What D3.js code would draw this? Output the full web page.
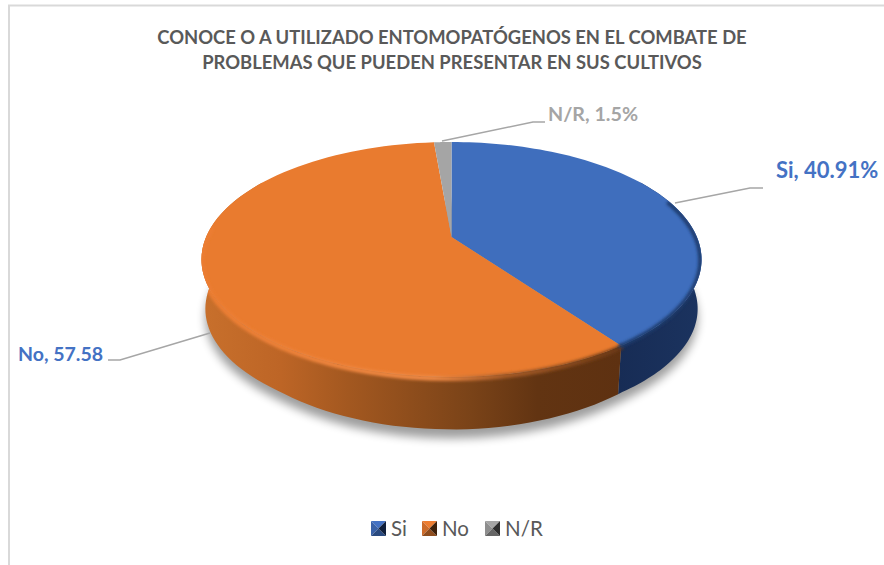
<!DOCTYPE html>
<html><head><meta charset="utf-8">
<script src="https://cdn.jsdelivr.net/npm/d3@7"></script>
<style>html,body{margin:0;padding:0;background:#fff}svg{display:block}text{font-family:Lato,Carlito,Calibri,sans-serif}</style>
</head><body><svg id="c" width="884" height="565"></svg>
<script>
const categories=["Si","No","N/R"];
const values=[40.91,57.58,1.5];
const labels=["Si, 40.91%","No, 57.58","N/R, 1.5%"];
const titleLines=["CONOCE O A UTILIZADO ENTOMOPATÓGENOS EN EL COMBATE DE","PROBLEMAS QUE PUEDEN PRESENTAR EN SUS CULTIVOS"];
const topColors=["#3f6ebd","#e97b2f","#a5a5a5"];
const labelColors=["#4472c4","#4472c4","#a5a5a5"];

const svg=d3.select("#c");
const defs=svg.append("defs");
const cx=451.5,apexY=237,k=-0.1915,p=67.8,W=245.4,warp=0.097;
function proj(a,dz=0,s=1){const b=a-warp*Math.sin(a),u=Math.sin(b)*s,v=-Math.cos(b)*s,d=1+k*v;return [cx+W*u/d,(p*v+apexY)/d+dz];}
// lower ring of the disc: slightly narrower, a little deeper at the very front
function ring(a){const b=a-warp*Math.sin(a),v=-Math.cos(b);return proj(a,50+5*Math.max(0,(v-0.8)/0.2),0.985);}
const pie=d3.pie().sort(null).value(d=>d);
const arcs=pie(values);
const line=d3.line();
const rimPts=(a0,a1,dz=0,s=1)=>d3.range(0,81).map(i=>proj(a0+(a1-a0)*i/80,dz,s));
const ringPts=(a0,a1)=>d3.range(0,81).map(i=>ring(a0+(a1-a0)*i/80));

function grad(id,x1,x2,stops){
  const g=defs.append("linearGradient").attr("id",id).attr("gradientUnits","userSpaceOnUse").attr("x1",x1).attr("x2",x2).attr("y1",0).attr("y2",0);
  stops.forEach(s=>g.append("stop").attr("offset",s[0]).attr("stop-color",s[1]));
}
grad("gO",201,622,[[0,"#c8702c"],[0.19,"#bd6526"],[0.35,"#a35820"],[0.64,"#7a4318"],[0.8,"#623412"],[1,"#5e3111"]]);
grad("gB",618,701,[[0,"#172c55"],[1,"#1b335f"]]);
grad("gBevelO",201,622,[[0,"#ec7d32"],[0.55,"#f08a45"],[0.72,"#a85c28"],[1,"#6a3812"]]);
defs.append("filter").attr("id","blur").attr("filterUnits","userSpaceOnUse").attr("x",0).attr("y",0).attr("width",884).attr("height",565).append("feGaussianBlur").attr("stdDeviation",5);
defs.append("filter").attr("id","soft").attr("filterUnits","userSpaceOnUse").attr("x",0).attr("y",0).attr("width",884).attr("height",565).append("feGaussianBlur").attr("stdDeviation",1.5);

// chart frame
svg.append("path").attr("d","M9,565V5.5H884").attr("stroke","#d9d9d9").attr("stroke-width",2).attr("fill","none");

// title
svg.selectAll("text.title").data(titleLines).join("text").attr("class","title")
  .attr("x",452).attr("y",(d,i)=>43.5+i*25).attr("text-anchor","middle")
  .attr("font-size",18.4).attr("font-weight",700).attr("fill","#595959").text(d=>d);

// shadow
svg.append("path").attr("d",line(ringPts(0,2*Math.PI))+"Z").attr("transform","translate(0,9)").attr("fill","#000").attr("opacity",0.38).attr("filter","url(#blur)");

// side walls
const aSplit=arcs[0].endAngle;
const wallPath=(a0,a1)=>line(rimPts(a0,a1).concat(ringPts(a1,a0)))+"Z";
svg.append("path").attr("d",wallPath(Math.PI*0.35,aSplit)).attr("fill","url(#gB)");
svg.append("path").attr("d",wallPath(aSplit,Math.PI*1.65)).attr("fill","url(#gO)");

// top face
svg.selectAll("path.slice").data(arcs).join("path").attr("class","slice")
  .attr("d",d=>line([[cx,apexY]].concat(rimPts(d.startAngle,d.endAngle)))+"Z")
  .attr("fill",(d,i)=>topColors[i]);

// bevel along the rim, kept inside the disc's outline
const clip=defs.append("clipPath").attr("id","disc");
clip.append("path").attr("d",line(rimPts(0,2*Math.PI))+"Z");
clip.append("path").attr("d",wallPath(Math.PI*0.35,Math.PI*1.65));
const bevel=svg.append("g").attr("clip-path","url(#disc)");
bevel.append("path").attr("d",line(rimPts(aSplit-0.005,Math.PI*1.5,1.5))).attr("fill","none").attr("stroke","url(#gBevelO)").attr("stroke-width",5).attr("filter","url(#soft)");
bevel.append("path").attr("d",line(rimPts(Math.PI*0.42,aSplit+0.005,1,0.995))).attr("fill","none").attr("stroke","#1f3a6c").attr("stroke-width",4).attr("filter","url(#soft)");

// leader lines
const leaders=[[[675,203],[750,188],[763,188]],[[108,360],[120,360],[210,333]],[[442,141],[533,122],[545,122]]];
leaders.forEach(l=>svg.append("path").attr("d",line(l)).attr("fill","none").attr("stroke","#a6a6a6").attr("stroke-width",1.5));

// data labels
const labelPos=[[776,178],[18,361],[548,121]];
const labelSize=[22,19.5,19.7];
svg.selectAll("text.lab").data(labels).join("text").attr("class","lab")
  .attr("x",(d,i)=>labelPos[i][0]).attr("y",(d,i)=>labelPos[i][1]).attr("font-size",(d,i)=>labelSize[i])
  .attr("font-weight",700).attr("fill",(d,i)=>labelColors[i]).text(d=>d);

// legend
const legX=[371,422,485];
const legTextX=[391,442,505];
const legTop=["#4472c4","#ed7d31","#a5a5a5"];
const legLeft=["#3a62a8","#cc6b2a","#8e8e8e"];
const legBottom=["#2a4a80","#8f4d1e","#666666"];
const legRight=["#101f3b","#3e2009","#2e2e2e"];
const sz=15;
const leg=svg.selectAll("g.leg").data(categories).join("g").attr("class","leg").attr("transform",(d,i)=>`translate(${legX[i]},521)`);
const tri=(a,b)=>line([a,b,[sz/2,sz/2]])+"Z";
leg.append("path").attr("d",tri([0,0],[sz,0])).attr("fill",(d,i)=>legTop[i]);
leg.append("path").attr("d",tri([0,0],[0,sz])).attr("fill",(d,i)=>legLeft[i]);
leg.append("path").attr("d",tri([0,sz],[sz,sz])).attr("fill",(d,i)=>legBottom[i]);
leg.append("path").attr("d",tri([sz,0],[sz,sz])).attr("fill",(d,i)=>legRight[i]);
leg.append("text").attr("x",(d,i)=>legTextX[i]-legX[i]).attr("y",15).attr("font-size",20.5).attr("fill","#595959").text(d=>d);
</script></body></html>
